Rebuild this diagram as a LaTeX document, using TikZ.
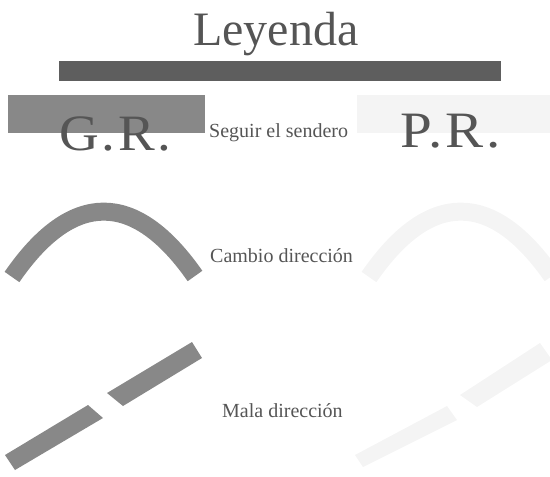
\documentclass[tikz,border=0pt]{standalone}
\usepackage{fontspec}
\usepackage{graphicx}
\setmainfont{Liberation Serif}
\definecolor{bardark}{HTML}{5E5E5E}
\definecolor{grmid}{HTML}{888888}
\definecolor{txtdark}{HTML}{555555}
\definecolor{prlight}{HTML}{F4F4F4}
\begin{document}
\begin{tikzpicture}[x=1pt,y=-1pt,
  lbl/.style={anchor=base west,inner sep=0pt,text=txtdark,font=\fontsize{20}{22}\selectfont},
  big/.style={anchor=base west,inner sep=0pt,text=txtdark,font=\fontsize{51}{56}\selectfont\addfontfeatures{LetterSpace=5}},
  arcline/.style={line width=18pt,line cap=butt}]
\useasboundingbox (0,0) rectangle (550,477);
\clip (0,0) rectangle (550,477);
% title
\node[anchor=base west,inner sep=0pt,text=txtdark,font=\fontsize{48}{52}\selectfont] (title) at (193,45) {Leyenda};
\fill[bardark] (59,61) rectangle (501,81);
% G.R. / P.R. headers
\fill[grmid] (8,95) rectangle (205,133);
\node[big] (gr) at (59,150) {\scalebox{1.08}[1]{G.R.}};
\fill[prlight] (357,95) rectangle (550,133);
\node[big] (pr) at (400,147) {\scalebox{1.12}[1]{P.R.}};
% labels
\node[lbl] (l1) at (209,137) {Seguir el sendero};
\node[lbl] (l2) at (210,262) {Cambio dirección};
\node[lbl] (l3) at (222,417) {Mala dirección};
% arcs
\draw[arcline,grmid] (12,277) .. controls (72,190) and (135,190) .. (195,276);
\draw[arcline,prlight] (369,277) .. controls (429,190) and (492,190) .. (552,276);
% wrong direction dashes
\fill[grmid] (5,455) -- (15,470) -- (103,418) -- (88,405) -- cycle;
\fill[grmid] (107,393) -- (123,406) -- (202,358) -- (192,342) -- cycle;
\fill[prlight] (355,455) -- (363,467) -- (457,420) -- (447,406) -- cycle;
\fill[prlight] (460,395) -- (477,407) -- (552,360) -- (540,343) -- cycle;
\end{tikzpicture}
\end{document}
